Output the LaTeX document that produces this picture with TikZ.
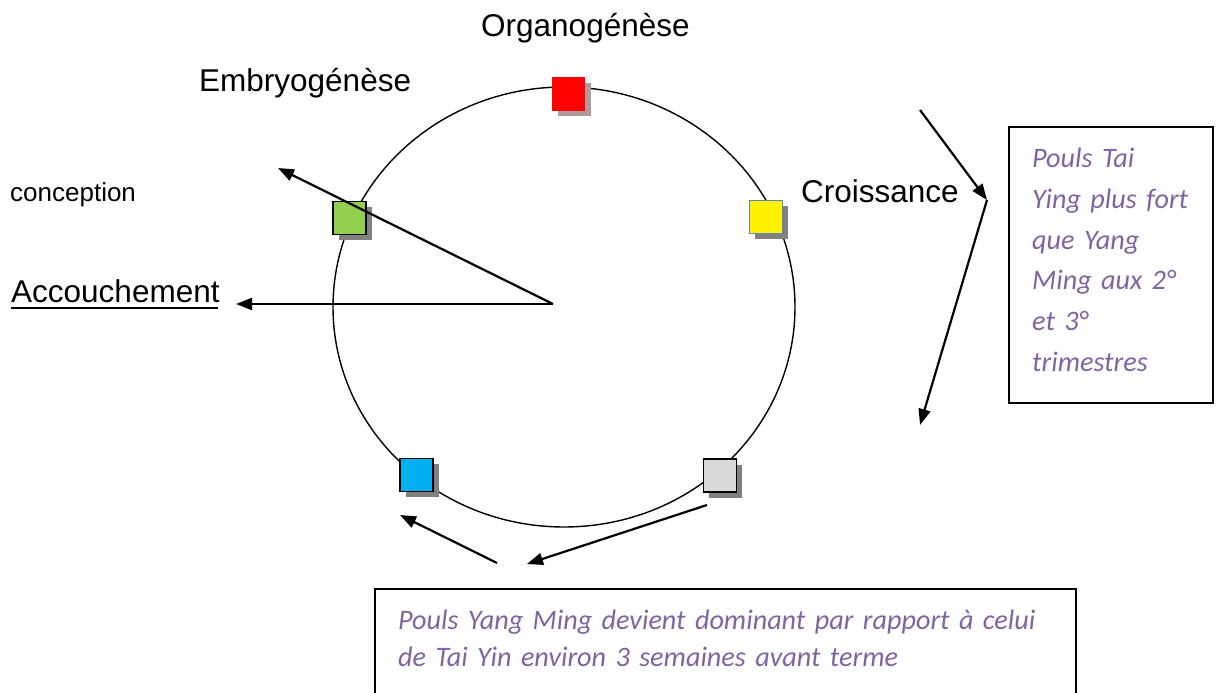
\documentclass[tikz,border=0pt]{standalone}
\usepackage{fontspec}
\setmainfont{Liberation Sans}
\newfontfamily\calfont{Carlito}
\usetikzlibrary{arrows.meta,shadows}
\definecolor{purp}{HTML}{8064A2}
\definecolor{sqgreen}{HTML}{92D050}
\definecolor{sqblue}{HTML}{00B0F0}
\definecolor{sqgray}{HTML}{D9D9D9}
\definecolor{yborder}{HTML}{5B86C5}
\definecolor{redshadow}{HTML}{B09A9A}
\begin{document}
\begin{tikzpicture}[x=1pt,y=-1pt,
  arr/.style={line width=2.2pt,-{Triangle[length=16pt,width=12pt]}},
  sq/.style={minimum size=33pt,inner sep=0pt,line width=1.8pt,draw=black,
    drop shadow={shadow xshift=5.5pt,shadow yshift=-5.5pt,fill=gray!100,opacity=1}},
  lab/.style={font=\fontsize{31.5}{37}\selectfont,inner sep=0pt,anchor=base west},
  note/.style={font=\calfont\itshape\fontsize{28.2}{41}\selectfont,text=purp,inner sep=0pt,anchor=base west,align=left},
  boxline/.style={line width=1.8pt}]
\useasboundingbox (0,0) rectangle (1219,693);
% circle
\draw[line width=1.4pt] (564,307) ellipse [x radius=231pt, y radius=220pt];
% squares
\node[sq,draw=none,fill=red,drop shadow={shadow xshift=5.5pt,shadow yshift=-5.5pt,fill=redshadow,opacity=1}] (organosq) at (568.5,94) {};
\node[sq,fill=sqgreen] (embsq) at (349.5,218) {};
\node[sq,fill=yellow,draw=yborder] (croisq) at (766,217) {};
\node[sq,fill=sqblue] (accsq) at (416.5,475) {};
\node[sq,fill=sqgray] (termsq) at (720,475.5) {};
% labels
\node[lab] (organo) at (481,37) {Organogénèse};
\node[lab] (emb) at (199,92) {Embryogénèse};
\node[lab] (croi) at (801,202) {Croissance};
\node[lab,font=\fontsize{26}{30}\selectfont] (conc) at (10,201) {conception};
\node[lab] (acc) at (11,302) {Accouchement};
\draw[line width=2pt] (acc.base west) ++(0,6) -- ++(207,0);
% coordinates for free arrows
\coordinate (hub) at (553,304);
\coordinate (embtip) at (278,168);
\coordinate (acctip) at (236,304);
\coordinate (rstart) at (920,110);
\coordinate (rmid) at (987,200);
\coordinate (rend) at (920,425);
\coordinate (bstart) at (707,505);
\coordinate (btip) at (527,564);
\coordinate (cstart) at (497,563);
\coordinate (ctip) at (400,515);
\draw[arr] (hub) -- (embtip);
\draw[arr] (hub) -- (acctip);
\draw[arr] (rstart) -- (rmid);
\draw[arr] (rmid) -- (rend);
\draw[arr] (bstart) -- (btip);
\draw[arr] (cstart) -- (ctip);
% right note box
\draw[boxline] (1009,127) rectangle (1213,403);
\node[note,text width=170pt] (rnote) at (1032,167) {Pouls Tai\\Ying plus fort\\que Yang\\Ming aux 2°\\et 3°\\trimestres};
% bottom note box
\draw[boxline] (375,700) -- (375,589) -- (1076,589) -- (1076,700);
\node[note,font=\calfont\itshape\fontsize{28.2}{37}\selectfont,text width=660pt] (bnote) at (398,629) {Pouls Yang Ming devient dominant par rapport à celui\\de Tai Yin environ 3 semaines avant terme};
\end{tikzpicture}
\end{document}
